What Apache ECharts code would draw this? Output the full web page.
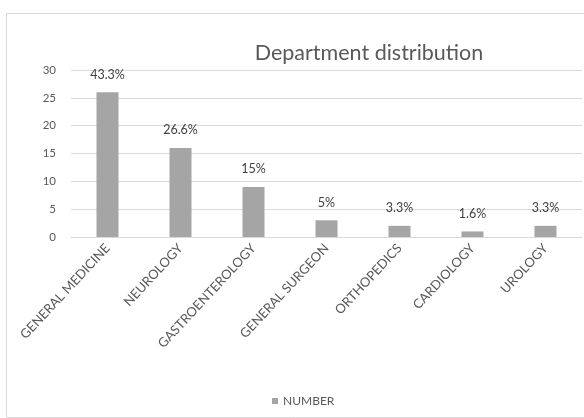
<!DOCTYPE html>
<html>
<head>
<meta charset="utf-8">
<script src="https://cdn.jsdelivr.net/npm/echarts@6/dist/echarts.min.js"></script>
<style>
  html, body { margin: 0; padding: 0; background: #ffffff; }
  #chart { width: 584px; height: 418px; }
</style>
</head>
<body>
<div id="chart"></div>
<script>
// Patients per department, with their share of the total
const departments = ['GENERAL MEDICINE', 'NEUROLOGY', 'GASTROENTEROLOGY', 'GENERAL SURGEON', 'ORTHOPEDICS', 'CARDIOLOGY', 'UROLOGY'];
const counts = [26, 16, 9, 3, 2, 1, 2];
const shareLabels = ['43.3%', '26.6%', '15%', '5%', '3.3%', '1.6%', '3.3%'];
const yTicks = [0, 5, 10, 15, 20, 25, 30];

const chart = echarts.init(document.getElementById('chart'), null, { renderer: 'canvas' });
const font = 'Lato, "Open Sans", sans-serif';

chart.setOption({
  backgroundColor: '#ffffff',
  animation: false,
  graphic: [{
    type: 'rect',
    shape: { x: 6.5, y: 13.5, width: 600, height: 404 },
    style: { fill: 'none', stroke: '#d9d9d9', lineWidth: 1 },
    z: -1
  }],
  title: {
    text: 'Department distribution',
    left: 364,
    top: 37,
    textAlign: 'center',
    textStyle: { fontFamily: font, fontSize: 21.5, fontWeight: 'normal', color: '#595959' }
  },
  legend: {
    data: ['NUMBER'],
    left: 267,
    top: 390,
    itemWidth: 6,
    itemHeight: 6,
    itemGap: 5,
    icon: 'rect',
    textStyle: { fontFamily: font, fontSize: 12, color: '#595959' }
  },
  grid: { left: 71, right: 2, top: 70, bottom: 181 },
  xAxis: {
    type: 'category',
    data: departments,
    axisLine: { show: true, lineStyle: { color: '#d9d9d9' } },
    axisTick: { show: false },
    axisLabel: {
      rotate: 47,
      interval: 0,
      margin: 9,
      fontFamily: font,
      fontSize: 13,
      color: '#595959'
    }
  },
  yAxis: {
    type: 'value',
    min: yTicks[0],
    max: yTicks[yTicks.length - 1],
    interval: yTicks[1] - yTicks[0],
    axisLine: { show: false },
    axisTick: { show: false },
    splitLine: { lineStyle: { color: '#d9d9d9' } },
    axisLabel: { margin: 15, fontFamily: font, fontSize: 11.5, color: '#595959' }
  },
  series: [{
    name: 'NUMBER',
    type: 'bar',
    data: counts,
    barWidth: 22,
    itemStyle: { color: '#a5a5a5' },
    label: {
      show: true,
      position: 'top',
      distance: 11,
      fontFamily: font,
      fontSize: 12.5,
      color: '#404040',
      formatter: p => shareLabels[p.dataIndex]
    }
  }]
});
</script>
</body>
</html>
